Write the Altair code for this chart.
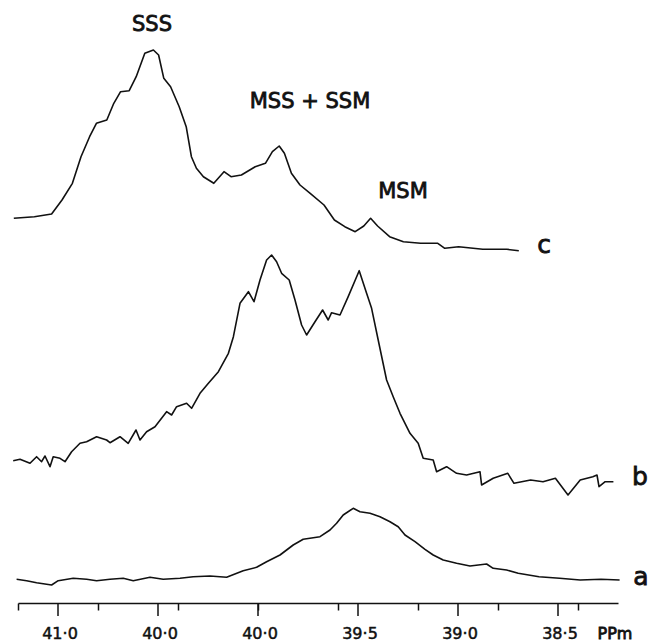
import altair as alt
import pandas as pd

# ---- data (ppm, intensity above each trace's baseline) ----
a_ppm = [41.207, 41.157, 41.107, 41.032, 40.999, 40.924, 40.857, 40.807, 40.74, 40.674,
         40.624, 40.54, 40.474, 40.39, 40.324, 40.24, 40.157, 40.074, 40.007, 39.957,
         39.89, 39.824, 39.774, 39.69, 39.64, 39.607, 39.574, 39.524, 39.49, 39.44,
         39.39, 39.34, 39.299, 39.265, 39.215, 39.165, 39.124, 39.074, 39.007, 38.94,
         38.857, 38.824, 38.757, 38.699, 38.595, 38.492, 38.389, 38.285, 38.192]
a_int = [3.7, 2.3, 0.3, -2, 2.3, 4.7, 3.7, 2.3, 3.7, 4.7,
         2.3, 5.7, 3.7, 4.7, 6.3, 7, 5.7, 12.3, 15.7, 21.3,
         28, 38, 43.7, 46.3, 53, 59.7, 68, 74.7, 71.3, 69.7,
         66.3, 61.3, 56.3, 48, 41.3, 33.7, 28, 23, 19.7, 17,
         19, 14.7, 13, 9.7, 6.3, 4.7, 3, 3.7, 3]

b_ppm = [41.224, 41.19, 41.14, 41.107, 41.082, 41.065, 41.04, 41.024, 40.99, 40.965,
         40.932, 40.89, 40.857, 40.807, 40.757, 40.74, 40.69, 40.649, 40.61, 40.59,
         40.557, 40.515, 40.457, 40.432, 40.407, 40.357, 40.332, 40.29, 40.248, 40.198,
         40.148, 40.123, 40.09, 40.048, 40.02, 39.99, 39.957, 39.932, 39.907, 39.882,
         39.844, 39.815, 39.782, 39.757, 39.715, 39.677, 39.649, 39.632, 39.59, 39.549,
         39.494, 39.457, 39.432, 39.399, 39.357, 39.324, 39.29, 39.24, 39.199, 39.174,
         39.124, 39.107, 39.057, 39.007, 38.957, 38.89, 38.882, 38.824, 38.751, 38.72,
         38.637, 38.575, 38.513, 38.45, 38.389, 38.326, 38.305, 38.295, 38.264, 38.223]
b_int = [22.3, 23.7, 19.7, 26.3, 21.3, 27, 16.3, 26.3, 24.7, 21.3,
         31.3, 39.7, 41.3, 46.3, 43, 40.3, 46.3, 39.7, 53, 43,
         51.3, 56.3, 71.3, 68, 76.3, 79.7, 74.7, 89.7, 99.7, 111.3,
         129.7, 146.3, 179.7, 191.3, 181.3, 203, 223, 228, 221.3, 209.7,
         203, 183, 158, 148, 161.3, 173, 163, 170.3, 168, 186.3,
         212.3, 189.7, 174.7, 143, 103, 86.3, 69.7, 49.7, 39.7, 24.7,
         23, 11.3, 16.3, 9.7, 8, 11.3, -2, 4.7, 9.7, -0.3,
         3, 1.3, 4.7, -12, 3, 6.3, 8, -3.7, 1.3, 1.3]

c_ppm = [41.221, 41.118, 41.032, 40.98, 40.928, 40.885, 40.842, 40.808, 40.756, 40.721,
         40.687, 40.644, 40.609, 40.566, 40.523, 40.497, 40.471, 40.437, 40.394, 40.359,
         40.333, 40.308, 40.273, 40.221, 40.17, 40.135, 40.083, 40.014, 39.963, 39.928,
         39.894, 39.868, 39.833, 39.79, 39.739, 39.67, 39.618, 39.566, 39.514, 39.471,
         39.437, 39.402, 39.342, 39.273, 39.187, 39.101, 39.066, 38.997, 38.876, 38.756,
         38.696]
c_int = [34.7, 36.3, 39, 53, 69.7, 96.3, 116.3, 129.7, 133, 149.7,
         161.3, 162.3, 176.3, 199.7, 203, 198, 174.7, 166.3, 146.3, 126.3,
         96.3, 84.7, 76.3, 69.7, 81.3, 76.3, 78, 86.3, 89.7, 101.3,
         107, 99.7, 79.7, 68, 59.7, 48, 33, 26.3, 21.3, 27,
         34.7, 27, 16.3, 11.3, 9.7, 9.7, 4.7, 6.3, 3.7, 3.7,
         2.3]

tick_values = [round(41.2 - 0.1 * i, 1) for i in range(31)]
major_values = [41.0, 40.5, 40.0, 39.5, 39.0, 38.5]
major_texts = ["41·0", "40·0", "40·0", "39·5", "39·0", "38·5"]

annot_text = ["SSS", "MSS + SSM", "MSM", "c", "b", "a", "PPm"]
annot_ppm = [40.53, 39.74, 39.275, 38.57, 38.09, 38.085, 38.215]
annot_y = [578, 501, 411, 358, 126, 26, -31]
annot_size = [21, 21, 21, 25, 25, 25, 16]

# ---- layout constants ----
offsets = {"a": 20, "b": 120, "c": 350}
FONT = "DejaVu Sans"
INK = "#111111"

rows = []
for name, xs, ys in (("a", a_ppm, a_int), ("b", b_ppm, b_int), ("c", c_ppm, c_int)):
    for x, v in zip(xs, ys):
        rows.append({"trace": name, "ppm": x, "y": offsets[name] + v})
df = pd.DataFrame(rows)

xscale = alt.Scale(domain=[41.2, 38.2], nice=False, zero=False)
yscale = alt.Scale(domain=[0, 603], nice=False, zero=False)

lines = alt.Chart(df).mark_line(color=INK, strokeWidth=1.6, strokeJoin="round").encode(
    x=alt.X("ppm:Q", scale=xscale, title=None,
            axis=alt.Axis(values=tick_values, tickSize=7, tickWidth=1.5, tickColor=INK,
                          domainColor=INK, domainWidth=1.6, grid=False, labels=False)),
    y=alt.Y("y:Q", scale=yscale, axis=None),
    detail="trace:N",
)

major_df = pd.DataFrame({"ppm": major_values, "text": major_texts})
major = alt.Chart(major_df).mark_rule(color=INK, strokeWidth=1.5).encode(
    x=alt.X("ppm:Q", scale=xscale), y=alt.value(603), y2=alt.value(616)
)
major_labels = alt.Chart(major_df).mark_text(
    font=FONT, fontSize=16, color=INK, stroke=INK, strokeWidth=0.5,
    baseline="middle", align="center", dx=2
).encode(x=alt.X("ppm:Q", scale=xscale), y=alt.value(634), text="text:N")

annot_df = pd.DataFrame({"text": annot_text, "ppm": annot_ppm, "y": annot_y, "size": annot_size})
annots = alt.Chart(annot_df).mark_text(
    font=FONT, color=INK, stroke=INK, strokeWidth=0.8, baseline="middle", align="center"
).encode(
    x=alt.X("ppm:Q", scale=xscale),
    y=alt.Y("y:Q", scale=yscale),
    text="text:N",
    size=alt.Size("size:Q", scale=None, legend=None),
)

chart = alt.layer(lines, major, major_labels, annots).properties(
    width=600, height=603,
    padding={"left": 18, "top": 0, "right": 32, "bottom": 40},
    autosize="none",
    background="white",
).configure_view(stroke=None)

chart.save("out.html", embed_options={"renderer": "svg", "actions": False})
